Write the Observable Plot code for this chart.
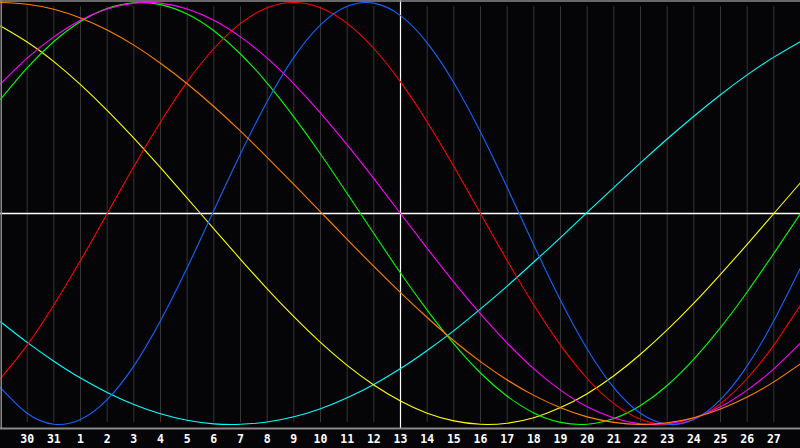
<!DOCTYPE html>
<html>
<head>
<meta charset="utf-8">
<script src="https://cdn.jsdelivr.net/npm/d3@7"></script>
<script src="https://cdn.jsdelivr.net/npm/@observablehq/plot@0.6"></script>
<style>
  html, body { margin: 0; padding: 0; background: #050508; overflow: hidden; }
  #chart svg { display: block; background: #050508; }
</style>
</head>
<body>
<div id="chart"></div>
<script>
// Day labels for each day index (0..30)
const dayLabels = ["29","30","31","1","2","3","4","5","6","7","8","9","10","11","12","13","14","15","16","17","18","19","20","21","22","23","24","25","26","27","28"];
const todayIndex = 15;

// Series values at each day index (-1 .. 1)
const physical = [-0.825,-0.947,-0.999,-0.976,-0.882,-0.722,-0.508,-0.257,0.014,0.283,0.531,0.740,0.894,0.982,0.997,0.938,0.809,0.620,0.386,0.123,-0.150,-0.411,-0.642,-0.825,-0.947,-0.999,-0.976,-0.882,-0.722,-0.508,-0.257];
const emotional = [-0.782,-0.624,-0.434,-0.223,0.000,0.223,0.434,0.624,0.782,0.901,0.975,1.000,0.975,0.901,0.782,0.624,0.434,0.223,0.000,-0.223,-0.434,-0.624,-0.782,-0.901,-0.975,-1.000,-0.975,-0.901,-0.782,-0.624,-0.434];
const intuitive = [0.614,0.736,0.837,0.916,0.969,0.997,0.997,0.969,0.916,0.837,0.736,0.614,0.476,0.325,0.165,0.000,-0.165,-0.325,-0.476,-0.614,-0.736,-0.837,-0.916,-0.969,-0.997,-0.997,-0.969,-0.916,-0.837,-0.736,-0.614];
const intellectual = [0.541,0.690,0.815,0.910,0.972,0.999,0.990,0.945,0.866,0.756,0.618,0.458,0.282,0.095,-0.095,-0.282,-0.458,-0.618,-0.756,-0.866,-0.945,-0.990,-0.999,-0.972,-0.910,-0.815,-0.690,-0.541,-0.372,-0.189,0.000];
const awareness = [1.000,0.992,0.968,0.927,0.870,0.798,0.712,0.615,0.507,0.390,0.266,0.138,0.008,-0.123,-0.251,-0.375,-0.493,-0.603,-0.702,-0.789,-0.862,-0.921,-0.964,-0.990,-1.000,-0.992,-0.968,-0.927,-0.870,-0.798,-0.712];
const aesthetic = [0.889,0.813,0.720,0.611,0.489,0.357,0.217,0.073,-0.073,-0.217,-0.357,-0.489,-0.611,-0.720,-0.813,-0.889,-0.947,-0.983,-0.999,-0.994,-0.968,-0.920,-0.854,-0.769,-0.667,-0.552,-0.425,-0.288,-0.146,0.000,0.146];
const spiritual = [-0.513,-0.611,-0.700,-0.780,-0.848,-0.905,-0.949,-0.980,-0.997,-0.999,-0.988,-0.963,-0.925,-0.873,-0.810,-0.735,-0.649,-0.555,-0.452,-0.344,-0.230,-0.114,0.005,0.123,0.240,0.353,0.461,0.563,0.657,0.741,0.815];

const seriesNames = ["spiritual","aesthetic","intellectual","intuitive","emotional","physical","awareness"];
const seriesValues = [spiritual, aesthetic, intellectual, intuitive, emotional, physical, awareness];
const seriesColors = ["#00ffff","#ffff00","#00ff00","#ff00ff","#ff0000","#1464ff","#ff8000"];

const rows = [];
seriesNames.forEach((name, k) => {
  seriesValues[k].forEach((v, i) => rows.push({series: name, day: i, value: v}));
});

const gridDays = d3.range(1, dayLabels.length - 1);
const labelRows = gridDays.map(i => ({day: i, label: dayLabels[i]}));

const chart = Plot.plot({
  width: 800,
  height: 448,
  marginLeft: 0,
  marginRight: 0,
  marginTop: 2,
  marginBottom: 24,
  style: {background: "#050508"},
  x: {domain: [0, 30], axis: null},
  y: {domain: [-1, 1], axis: null},
  color: {domain: seriesNames, range: seriesColors},
  marks: [
    Plot.ruleX(gridDays, {x: d => d, y1: -1, y2: 1, stroke: "#363636", strokeWidth: 1, insetTop: -2, insetBottom: -4}),
    Plot.ruleX([todayIndex], {stroke: "#ffffff", strokeWidth: 1.2, insetTop: -2, insetBottom: -4}),
    Plot.ruleY([0], {stroke: "#ffffff", strokeWidth: 1.5}),
    Plot.line(rows, {x: "day", y: "value", z: "series", stroke: "series", strokeWidth: 1.1, curve: "natural"}),
    Plot.ruleY([1], {dy: -1.5, stroke: "#8a8a8a", strokeWidth: 1.5}),
    Plot.ruleY([-1], {dy: 4, stroke: "#8a8a8a", strokeWidth: 2}),
    Plot.ruleX([0], {dx: 0.75, stroke: "#8a8a8a", strokeWidth: 1.5, insetTop: -2, insetBottom: -4}),
    Plot.text(labelRows, {x: "day", y: -1, text: "label", dy: 15, fill: "#ffffff",
      fontWeight: "bold", fontSize: 11.5, fontFamily: "DejaVu Sans Mono", textAnchor: "middle"})
  ]
});

document.getElementById("chart").appendChild(chart);
</script>
</body>
</html>
